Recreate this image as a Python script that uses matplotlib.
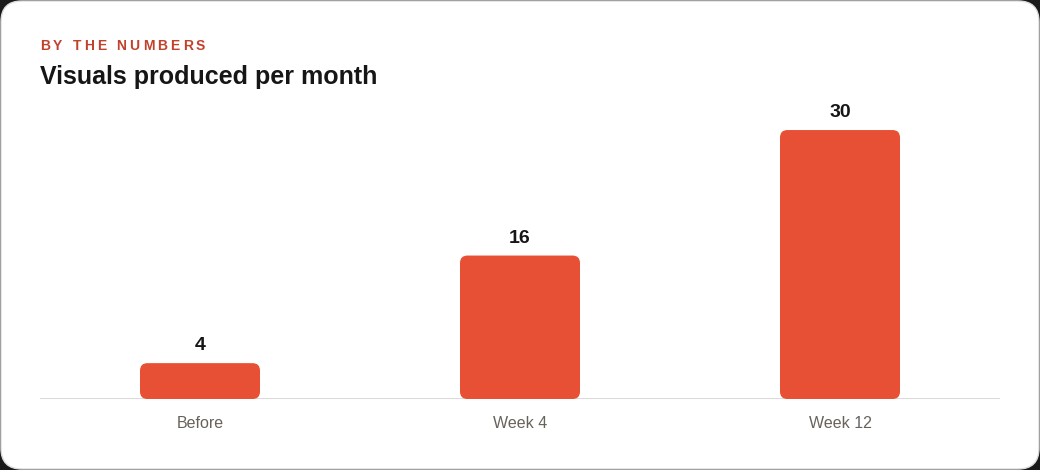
import matplotlib
matplotlib.use("Agg")
import matplotlib.pyplot as plt
from matplotlib.patches import FancyBboxPatch

categories = ["Before", "Week 4", "Week 12"]
values = [4, 16, 30]
eyebrow = "BY THE NUMBERS"
title = "Visuals produced per month"

BAR = "#e85035"
RED_TXT = "#c2412b"
INK = "#161616"
GRAY = "#67625c"

plt.rcParams["font.family"] = ["Liberation Sans", "DejaVu Sans"]

W, H = 1040, 470
fig = plt.figure(figsize=(W / 100, H / 100), dpi=100, facecolor="#1a1a1a")

# card background
card = FancyBboxPatch((1 / W, 1 / H), 1 - 2 / W, 1 - 2 / H,
                      boxstyle="round,pad=0,rounding_size=0.02",
                      mutation_aspect=W / H,
                      transform=fig.transFigure, facecolor="white",
                      edgecolor="#dcdcdc", linewidth=1, zorder=-10)
fig.patches.append(card)

ax = fig.add_axes([40 / W, 1 - 399 / H, 960 / W, 299 / H])
ax.set_facecolor("none")
x = range(len(categories))
bars = ax.bar(x, values, width=0.375, color=BAR)
ax.set_xlim(-0.5, len(categories) - 0.5)
ax.set_ylim(0, 33.35)

# swap plain bars for rounded ones
xpp = 3 / 960
ypp = 33.35 / 299
for b in bars:
    b.set_visible(False)
    rb = FancyBboxPatch((b.get_x(), b.get_y()), b.get_width(), b.get_height(),
                        boxstyle="round,pad=0,rounding_size=%f" % (7.5 * xpp),
                        mutation_aspect=ypp / xpp,
                        facecolor=BAR, edgecolor="none", zorder=3)
    ax.add_patch(rb)

for xi, v in zip(x, values):
    ax.annotate(str(v), (xi, v), xytext=(0, 6.5), textcoords="offset points",
                ha="center", va="bottom", fontsize=14, fontweight="bold",
                color=INK)

ax.axhline(0, color="#d6d3ce", linewidth=1.2, zorder=1)
for s in ax.spines.values():
    s.set_visible(False)
ax.set_yticks([])
ax.set_xticks(list(x))
ax.set_xticklabels(categories, fontsize=11.5, color=GRAY)
ax.tick_params(axis="x", length=0, pad=12.5)

# title
fig.text(40 / W, 1 - 84 / H, title, fontsize=18, fontweight="bold",
         color=INK, ha="left", va="baseline")

# letter-spaced eyebrow
renderer = fig.canvas.get_renderer()
xpos = 40.0
for ch in eyebrow:
    t = fig.text(xpos / W, 1 - 50 / H, ch, fontsize=10, fontweight="bold",
                 color=RED_TXT, ha="left", va="baseline")
    w = t.get_window_extent(renderer).width if ch != " " else 4.0
    xpos += w + 3.1

fig.savefig("out.png", dpi=100, facecolor=fig.get_facecolor())
